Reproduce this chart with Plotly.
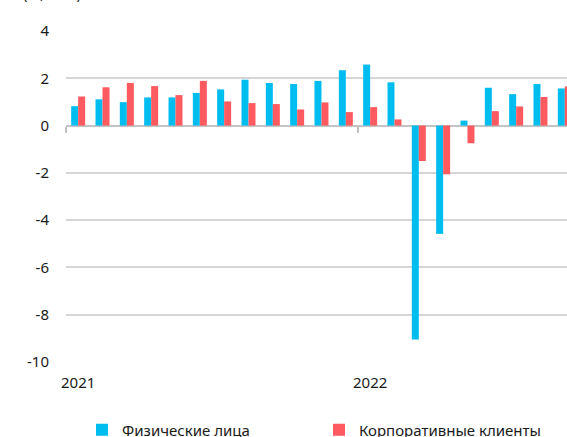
import plotly.graph_objects as go

# monthly values, Jan 2021 - Sep 2022
months = list(range(21))
individuals = [0.82, 1.11, 0.99, 1.19, 1.19, 1.38, 1.53, 1.94, 1.80, 1.76, 1.89, 2.34,
               2.58, 1.83, -9.05, -4.58, 0.21, 1.60, 1.33, 1.76, 1.57]
corporate = [1.23, 1.62, 1.80, 1.67, 1.29, 1.89, 1.02, 0.95, 0.91, 0.68, 0.98, 0.57,
             0.78, 0.26, -1.50, -2.06, -0.75, 0.61, 0.81, 1.21, 1.66]
year_pos = [0, 12]
year_labels = ['2021', '2022']
year_bounds = [-0.5, 11.5]
y_ticks = [4, 2, 0, -2, -4, -6, -8, -10]
y_labels = ['4', '2', '0', '-2', '-4', '-6', '-8', '-10']

BLUE = '#00bdf0'
RED = '#ff5a5f'
FONT = 'Noto Sans'

fig = go.Figure()
fig.add_trace(go.Bar(x=months, y=individuals, name='Физические лица',
                     marker=dict(color=BLUE, line=dict(width=0))))
fig.add_trace(go.Bar(x=months, y=corporate, name='Корпоративные клиенты',
                     marker=dict(color=RED, line=dict(width=0))))

# dummy trace on the second x axis so the boundary ticks show up
fig.add_trace(go.Scatter(x=[None], y=[None], xaxis='x2', showlegend=False, hoverinfo='skip'))

fig.update_layout(
    width=567, height=437,
    margin=dict(l=66, r=0, t=31, b=75, autoexpand=False),
    paper_bgcolor='white', plot_bgcolor='white',
    font=dict(family=FONT, size=15, color='#1a1a1a'),
    barmode='group', bargap=0.425, bargroupgap=0,
    showlegend=True,
    legend=dict(orientation='h', xref='container', yref='container',
                x=82 / 567, xanchor='left', y=7 / 437, yanchor='middle',
                entrywidth=192, font=dict(size=15), itemclick=False),
    xaxis=dict(range=[-0.5, 20.09], tickvals=year_pos, ticktext=year_labels,
               showgrid=False, zeroline=False, showline=False, ticks='',
               ticklabelstandoff=10, automargin=False),
    xaxis2=dict(overlaying='x', matches='x', anchor='free', position=10 / 14,
                tickvals=year_bounds, ticks='outside', ticklen=6, tickwidth=1.5,
                tickcolor='#bfbfbf', showticklabels=False, showgrid=False,
                zeroline=False, showline=False, side='bottom', automargin=False),
    yaxis=dict(range=[-10, 4], tickvals=y_ticks, ticktext=y_labels,
               showgrid=True, gridcolor='#d6d6d6', gridwidth=1.5,
               zeroline=True, zerolinecolor='#c4c4c4', zerolinewidth=2,
               showline=False, ticks='', ticklabelstandoff=16, automargin=False),
)

# unit label, mostly above the visible area as in the source
fig.add_annotation(text='(%, м/м)', xref='paper', yref='paper', x=-0.09, y=1.0,
                   yshift=26, xanchor='left', yanchor='bottom', showarrow=False,
                   font=dict(size=15))

# page body has a default 8px margin; drop it so the figure sits at the corner
fig.write_html('out.html', config={'displayModeBar': False},
               post_script="document.body.style.margin='0';")
